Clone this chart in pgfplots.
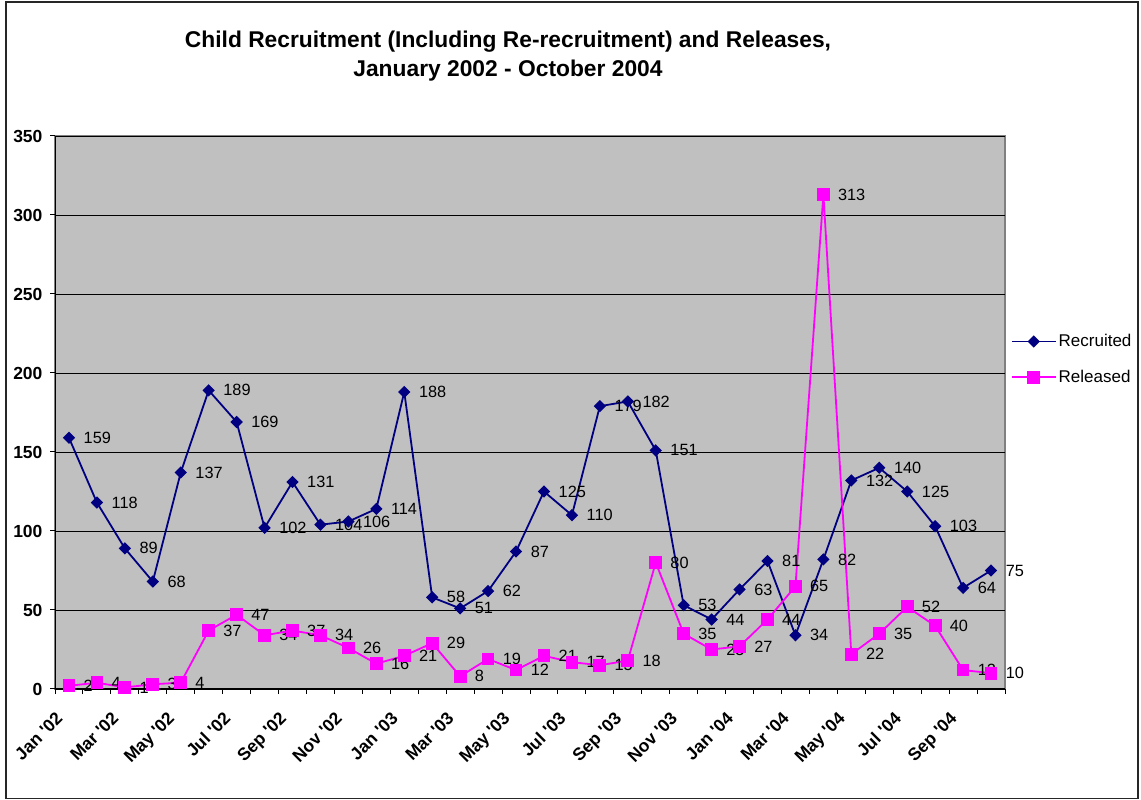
\documentclass[border=0pt]{standalone}
\usepackage{fontspec}
\setmainfont{Liberation Sans}
\usepackage{pgfplots}
\pgfplotsset{compat=1.18}
\definecolor{navyc}{HTML}{000080}
\definecolor{magc}{HTML}{FF00FF}
\definecolor{bggray}{HTML}{C0C0C0}
\begin{document}
\begin{tikzpicture}[x=1pt,y=1pt]
\path[use as bounding box] (0,0) rectangle (1141,800);
\draw[line width=1.5pt, black!85] (6,1.5) rectangle (1138,798);
\node[align=center, font=\fontsize{22.8}{29}\selectfont\bfseries] at (508,743.5) {Child Recruitment (Including Re-recruitment) and Releases,\\January 2002 - October 2004};
\begin{axis}[
  at={(55pt,111pt)}, anchor=south west,
  scale only axis, width=950pt, height=553pt,
  xmin=-0.5, xmax=33.5, ymin=0, ymax=350,
  clip=false,
  /pgf/number format/assume math mode=true,
  axis background/.style={fill=bggray, draw=gray, line width=1.2pt},
  axis x line*=bottom, axis y line*=left,
  axis line style={black, line width=1pt, -},
  ytick={0,50,...,350},
  ymajorgrids, grid style={black, line width=0.8pt},
  xtick={-0.5,0.5,...,33.5}, xticklabels={},
  extra x ticks={0,2,...,32},
  extra x tick labels={Jan \textquotesingle02,Mar \textquotesingle02,May \textquotesingle02,Jul \textquotesingle02,Sep \textquotesingle02,Nov \textquotesingle02,Jan \textquotesingle03,Mar \textquotesingle03,May \textquotesingle03,Jul \textquotesingle03,Sep \textquotesingle03,Nov \textquotesingle03,Jan \textquotesingle04,Mar \textquotesingle04,May \textquotesingle04,Jul \textquotesingle04,Sep \textquotesingle04},
  extra x tick style={major tick length=0pt, grid=none},
  xtick pos=bottom, ytick pos=left,
  tick align=outside, major tick length=5pt,
  tick style={black, line width=1pt},
  xticklabel style={xshift=-14pt, yshift=-17pt, rotate=45, anchor=north east, font=\fontsize{17.5}{19}\selectfont\bfseries},
  yticklabel style={xshift=-4pt, font=\fontsize{17.5}{19}\selectfont\bfseries},
  every node near coord/.append style={anchor=west, xshift=10.5pt, font=\fontsize{16.3}{18}\selectfont, text=black},
  legend style={at={(1.006,0.596)}, anchor=west, draw=none, fill=none, font=\fontsize{17}{20}\selectfont, row sep=18pt, inner sep=0pt},
  legend cell align=left,
  legend image code/.code={\draw[#1, mark repeat=2, mark phase=2] plot coordinates {(0pt,0pt) (22pt,0pt) (44pt,0pt)};},
]
\addplot[navyc, line width=1.8pt, mark=diamond*, mark size=4.9pt, mark options={solid, fill=navyc, xscale=1.33}, nodes near coords] coordinates {
(0,159) (1,118) (2,89) (3,68) (4,137) (5,189) (6,169) (7,102) (8,131) (9,104) (10,106) (11,114)
(12,188) (13,58) (14,51) (15,62) (16,87) (17,125) (18,110) (19,179) (20,182) (21,151) (22,53) (23,44)
(24,63) (25,81) (26,34) (27,82) (28,132) (29,140) (30,125) (31,103) (32,64) (33,75)};
\addlegendentry{Recruited}
\addplot[magc, line width=1.8pt, mark=square*, mark size=5.5pt, mark options={solid, fill=magc}, nodes near coords] coordinates {
(0,2) (1,4) (2,1) (3,3) (4,4) (5,37) (6,47) (7,34) (8,37) (9,34) (10,26) (11,16)
(12,21) (13,29) (14,8) (15,19) (16,12) (17,21) (18,17) (19,15) (20,18) (21,80) (22,35) (23,25)
(24,27) (25,44) (26,65) (27,313) (28,22) (29,35) (30,52) (31,40) (32,12) (33,10)};
\addlegendentry{Released}
\end{axis}
\end{tikzpicture}
\end{document}
